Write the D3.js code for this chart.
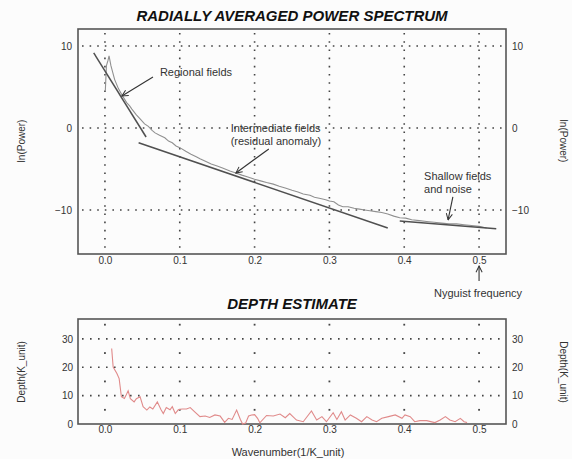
<!DOCTYPE html>
<html><head><meta charset="utf-8">
<script src="https://cdn.jsdelivr.net/npm/d3@7"></script>
<style>
body{margin:0;background:#fcfcfc;}
svg{display:block;font-family:"Liberation Sans",Arial,sans-serif;}
</style></head>
<body><svg id="c" width="572" height="459"></svg>
<script>
// ---- Data ----
const specK = [0.0005,0.002,0.004,0.0055,0.008,0.013,0.018,0.023,0.029,0.033,0.036,0.042,0.047,0.053,0.058,0.063,0.067,0.073,0.080,0.085,0.090,0.095,0.100,0.108,0.115,0.122,0.127,0.135,0.142,0.150,0.158,0.167,0.175,0.183,0.190,0.200,0.208,0.216,0.225,0.233,0.242,0.250,0.258,0.265,0.274,0.280,0.288,0.295,0.300,0.306,0.312,0.318,0.325,0.333,0.340,0.347,0.354,0.362,0.370,0.378,0.386,0.394,0.402,0.410,0.420,0.430,0.440,0.450,0.460,0.470,0.480,0.490,0.500,0.510];
const specLnP = [4.5,7.6,8.2,8.8,7.6,5.9,4.8,4.0,3.1,2.7,2.3,1.6,1.1,0.5,0.2,-0.3,-0.6,-0.9,-1.2,-1.6,-1.8,-2.2,-2.4,-2.85,-3.2,-3.5,-3.75,-4.1,-4.4,-4.65,-4.9,-5.25,-5.5,-5.75,-5.95,-6.25,-6.45,-6.65,-6.85,-7.1,-7.35,-7.6,-7.8,-8.05,-8.2,-8.45,-8.6,-8.75,-8.9,-9.0,-9.4,-9.6,-9.6,-9.8,-9.9,-10.0,-10.1,-10.2,-10.3,-10.5,-10.75,-10.95,-11.0,-11.2,-11.3,-11.4,-11.5,-11.6,-11.7,-11.7,-11.8,-11.9,-12.0,-12.2];
const regionalFit = [[-0.015, 9.15],[0.055, -1.1]];
const intermediateFit = [[0.045, -1.8],[0.378, -12.2]];
const shallowFit = [[0.394, -11.34],[0.523, -12.3]];

const depthK = [0.009,0.011,0.016,0.019,0.022,0.026,0.028,0.031,0.034,0.039,0.042,0.047,0.051,0.056,0.060,0.064,0.070,0.075,0.078,0.082,0.087,0.090,0.094,0.098,0.103,0.109,0.114,0.120,0.127,0.134,0.140,0.147,0.154,0.160,0.165,0.170,0.176,0.181,0.184,0.188,0.192,0.196,0.200,0.204,0.207,0.216,0.225,0.234,0.241,0.247,0.256,0.265,0.276,0.283,0.290,0.296,0.305,0.310,0.316,0.321,0.328,0.336,0.343,0.350,0.357,0.363,0.370,0.379,0.388,0.397,0.401,0.408,0.414,0.421,0.430,0.441,0.448,0.455,0.461,0.468,0.475,0.480,0.484];
const depthVal = [26.6,20.1,17.8,16.0,9.6,9.0,10.0,11.7,8.9,7.8,8.9,9.6,6.1,4.9,6.0,5.3,7.8,5.0,3.7,5.8,5.0,6.1,3.7,5.0,5.3,5.3,5.8,4.3,2.6,2.8,2.3,3.2,2.8,0.6,2.0,1.6,4.9,1.6,0.0,0.3,2.8,3.2,3.3,2.0,0.4,3.0,2.8,3.5,2.2,3.7,1.4,0.8,4.6,1.4,2.6,0.8,4.0,1.6,4.3,1.4,3.2,2.0,0.8,2.6,1.4,0.8,2.0,2.6,3.2,2.0,3.2,2.6,0.8,1.2,1.2,0.5,1.4,2.6,1.4,0.8,2.0,0.8,0.5];

const xTicks = [0.0,0.1,0.2,0.3,0.4,0.5];
const topYTicks = [10,0,-10];
const botYTicks = [0,10,20,30];
const botGridY = [10,20,30];
const botVDots = [5,15,25,35];

// ---- Setup ----
const svg = d3.select("#c");
const L = 78, R = 506;
const x = d3.scaleLinear().domain([-0.036,0.536]).range([L,R]);
const yT = d3.scaleLinear().domain([-15.37,12.07]).range([254,29]);
const yB = d3.scaleLinear().domain([0,37]).range([424,319]);
const fmtX = d3.format(".1f");
const dotCol = "#444";
const txtCol = "#333";

svg.append("defs").append("marker").attr("id","ah").attr("viewBox","0 0 10 10")
  .attr("refX",9).attr("refY",5).attr("markerWidth",7).attr("markerHeight",7)
  .attr("orient","auto-start-reverse")
  .append("path").attr("d","M1,1 L9,5 L1,9").attr("fill","none").attr("stroke","#333").attr("stroke-width",1.3);

function label(t,xp,yp,opt={}){
  return svg.append("text").attr("x",xp).attr("y",yp).text(t)
    .attr("font-size",opt.size||11).attr("fill",opt.fill||txtCol)
    .attr("text-anchor",opt.anchor||"start")
    .attr("font-weight",opt.weight||"normal").attr("font-style",opt.style||"normal");
}

// ===== TOP PLOT =====
const gT = svg.append("g");
gT.selectAll(".hg").data(topYTicks).join("line")
  .attr("x1",L+4).attr("x2",R).attr("y1",d=>yT(d)).attr("y2",d=>yT(d))
  .attr("stroke",dotCol).attr("stroke-width",1.6).attr("stroke-dasharray","1.6,6");
gT.selectAll(".vg").data(xTicks).join("line")
  .attr("x1",d=>x(d)).attr("x2",d=>x(d)).attr("y1",yT.range()[1]+4).attr("y2",yT.range()[0])
  .attr("stroke",dotCol).attr("stroke-width",1.6).attr("stroke-dasharray","1.6,6.6");
gT.append("rect").attr("x",L).attr("y",29).attr("width",R-L).attr("height",254-29)
  .attr("fill","none").attr("stroke","#555").attr("stroke-width",1.6);
const axL = d3.axisLeft(yT).tickValues(topYTicks).tickSize(0).tickPadding(6).tickFormat(d3.format("d"));
const axR = d3.axisRight(yT).tickValues(topYTicks).tickSize(0).tickPadding(6).tickFormat(d3.format("d"));
const axBt = d3.axisBottom(x).tickValues(xTicks).tickSize(0).tickPadding(3).tickFormat(fmtX);
[ [axL,`translate(${L},0)`],[axR,`translate(${R},0)`],[axBt,`translate(0,254)`] ].forEach(([a,t])=>{
  const g = svg.append("g").attr("transform",t).call(a);
  g.select(".domain").remove();
  g.selectAll("text").attr("font-size",10).attr("fill",txtCol).attr("font-family","Liberation Sans, Arial, sans-serif");
});
const lineT = d3.line().x(d=>x(d[0])).y(d=>yT(d[1]));
gT.append("path").datum(specK.map((k,i)=>[k,specLnP[i]])).attr("d",lineT)
  .attr("fill","none").attr("stroke","#909090").attr("stroke-width",1.1);
[regionalFit,intermediateFit,shallowFit].forEach(f=>{
  gT.append("path").datum(f).attr("d",lineT).attr("fill","none").attr("stroke","#505050").attr("stroke-width",1.5);
});
function arrow(p0,p1,ys){
  svg.append("line").attr("x1",x(p0[0])).attr("y1",ys(p0[1])).attr("x2",x(p1[0])).attr("y2",ys(p1[1]))
    .attr("stroke","#333").attr("stroke-width",1.1).attr("marker-end","url(#ah)");
}
label("Regional fields",x(0.0735),yT(6.34));
arrow([0.0642,6.22],[0.0227,3.9],yT);
label("Intermediate fields",x(0.168),yT(-0.45));
label("(residual anomaly)",x(0.168),yT(-2.05));
arrow([0.219,-2.56],[0.175,-5.49],yT);
label("Shallow fields",x(0.4265),yT(-6.3));
label("and noise",x(0.4265),yT(-7.9));
arrow([0.465,-8.41],[0.4586,-11.2],yT);
svg.append("line").attr("x1",x(0.5)).attr("x2",x(0.5)).attr("y1",281).attr("y2",266)
  .attr("stroke","#333").attr("stroke-width",1.1).attr("marker-end","url(#ah)");
label("Nyguist frequency",x(0.5)-1,297,{anchor:"middle"});

label("RADIALLY AVERAGED POWER SPECTRUM",292,21,{size:15,weight:"bold",style:"italic",anchor:"middle",fill:"#111"});
label("DEPTH ESTIMATE",292,309,{size:15,weight:"bold",style:"italic",anchor:"middle",fill:"#111"});
function vlabel(t,xp,yp,rot){
  svg.append("text").attr("transform",`translate(${xp},${yp}) rotate(${rot})`).attr("text-anchor","middle")
    .attr("font-size",10).attr("fill",txtCol).text(t);
}
vlabel("ln(Power)",25,141,-90);
vlabel("ln(Power)",560,141,90);
vlabel("Depth(K_unit)",25,372,-90);
vlabel("Depth(K_unit)",560,372,90);
label("Wavenumber(1/K_unit)",288,456,{anchor:"middle"});

// ===== BOTTOM PLOT =====
const gB = svg.append("g");
gB.selectAll(".hg").data(botGridY).join("line")
  .attr("x1",L+4).attr("x2",R).attr("y1",d=>yB(d)).attr("y2",d=>yB(d))
  .attr("stroke",dotCol).attr("stroke-width",1.6).attr("stroke-dasharray","1.6,6.4");
const vd = [];
xTicks.forEach(k=>botVDots.forEach(v=>vd.push([k,v])));
gB.selectAll(".vd").data(vd).join("rect")
  .attr("x",d=>x(d[0])-0.9).attr("y",d=>yB(d[1])-0.9).attr("width",1.8).attr("height",1.8).attr("fill",dotCol);
gB.append("rect").attr("x",L).attr("y",319).attr("width",R-L).attr("height",424-319)
  .attr("fill","none").attr("stroke","#555").attr("stroke-width",1.6);
const bL = d3.axisLeft(yB).tickValues(botYTicks).tickSize(0).tickPadding(5).tickFormat(d3.format("d"));
const bR = d3.axisRight(yB).tickValues(botYTicks).tickSize(0).tickPadding(6).tickFormat(d3.format("d"));
const bB = d3.axisBottom(x).tickValues(xTicks).tickSize(0).tickPadding(2).tickFormat(fmtX);
[ [bL,`translate(${L},0)`],[bR,`translate(${R},0)`],[bB,`translate(0,424)`] ].forEach(([a,t])=>{
  const g = svg.append("g").attr("transform",t).call(a);
  g.select(".domain").remove();
  g.selectAll("text").attr("font-size",10).attr("fill",txtCol).attr("font-family","Liberation Sans, Arial, sans-serif");
});
const lineB = d3.line().x(d=>x(d[0])).y(d=>yB(d[1]));
gB.append("path").datum(depthK.map((k,i)=>[k,depthVal[i]])).attr("d",lineB)
  .attr("fill","none").attr("stroke","#e08a8a").attr("stroke-width",1.1);
</script>
</body></html>
